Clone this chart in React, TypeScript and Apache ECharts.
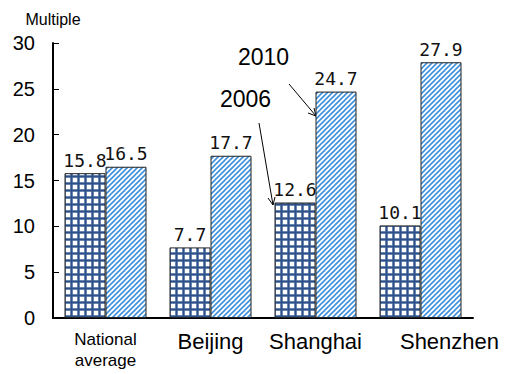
import React, { useEffect, useRef } from "react";
import * as echarts from "echarts";

const categories = ["National average", "Beijing", "Shanghai", "Shenzhen"];
const values2006 = [15.8, 7.7, 12.6, 10.1];
const values2010 = [16.5, 17.7, 24.7, 27.9];
const yTicks = [0, 5, 10, 15, 20, 25, 30];

function gridTile(): HTMLCanvasElement {
  const c = document.createElement("canvas");
  c.width = 7;
  c.height = 7;
  const g = c.getContext("2d")!;
  g.fillStyle = "#ffffff";
  g.fillRect(0, 0, 7, 7);
  g.fillStyle = "#a9bbd6";
  g.fillRect(0, 0, 7, 3);
  g.fillRect(0, 0, 3, 7);
  g.fillStyle = "#2d5089";
  g.fillRect(0, 0.5, 7, 2);
  g.fillRect(0.5, 0, 2, 7);
  return c;
}

function stripeTile(): HTMLCanvasElement {
  const c = document.createElement("canvas");
  c.width = 5;
  c.height = 5;
  const g = c.getContext("2d")!;
  g.fillStyle = "#ffffff";
  g.fillRect(0, 0, 5, 5);
  g.strokeStyle = "#3f90da";
  g.lineWidth = 1.6;
  const segs = [
    [-1, 6, 6, -1],
    [-4, 4, 4, -4],
    [1, 9, 9, 1],
  ];
  for (const s of segs) {
    g.beginPath();
    g.moveTo(s[0], s[1]);
    g.lineTo(s[2], s[3]);
    g.stroke();
  }
  return c;
}

export default function App() {
  const ref = useRef<HTMLDivElement>(null);
  useEffect(() => {
    if (!ref.current) return;
    const chart = echarts.init(ref.current, null, { renderer: "svg" });
    const pat2006 = { image: gridTile(), repeat: "repeat", imageWidth: 7, imageHeight: 7 } as any;
    const pat2010 = { image: stripeTile(), repeat: "repeat", imageWidth: 5, imageHeight: 5 } as any;
    const labelStyle = {
      show: true,
      position: "top",
      distance: 4,
      fontFamily: "DejaVu Sans Mono",
      fontSize: 18,
      color: "#111",
      formatter: (p: any) => p.value.toFixed(1),
    };
    chart.setOption({
      animation: false,
      backgroundColor: "#ffffff",
      grid: { left: 53, right: 33, top: 43, bottom: 56 },
      xAxis: {
        type: "category",
        data: categories,
        axisLine: { lineStyle: { color: "#000", width: 2 } },
        axisTick: { show: false },
        axisLabel: {
          margin: 11,
          interval: 0,
          formatter: (v: string) => {
            if (v === "National average") return "{s|National}\n{s|average}";
            if (v === "Shenzhen") return "{r|" + v + "}";
            return "{b|" + v + "}";
          },
          rich: {
            s: { fontFamily: "Liberation Sans", fontSize: 17, lineHeight: 21, color: "#000" },
            b: { fontFamily: "Liberation Sans", fontSize: 22, lineHeight: 24, color: "#000" },
            r: { fontFamily: "Liberation Sans", fontSize: 22, lineHeight: 24, color: "#000", padding: [0, 0, 0, 58] },
          },
        },
      },
      yAxis: {
        type: "value",
        min: 0,
        max: 30,
        interval: 5,
        name: "Multiple",
        nameLocation: "end",
        nameGap: 16,
        nameTextStyle: { fontFamily: "Liberation Sans", fontSize: 16, color: "#000" },
        axisLine: { show: true, lineStyle: { color: "#000", width: 2 } },
        axisTick: { show: true, inside: true, length: 6, lineStyle: { color: "#000", width: 1 } },
        splitLine: { show: false },
        axisLabel: {
          margin: 18,
          fontFamily: "Liberation Sans",
          fontSize: 20,
          color: "#000",
          formatter: (v: number) => (yTicks.includes(v) ? String(v) : ""),
        },
      },
      series: [
        {
          name: "2006",
          type: "bar",
          data: values2006,
          barWidth: 41,
          barGap: "0%",
          itemStyle: { color: pat2006, borderColor: "#222", borderWidth: 1 },
          label: labelStyle,
        },
        {
          name: "2010",
          type: "bar",
          data: values2010,
          barWidth: 41,
          barGap: "0%",
          itemStyle: { color: pat2010, borderColor: "#222", borderWidth: 1 },
          label: labelStyle,
        },
      ],
      graphic: [
        {
          type: "text",
          left: 238,
          top: 45,
          style: { text: "2010", fontFamily: "Liberation Sans", fontSize: 23, fill: "#000" },
        },
        {
          type: "text",
          left: 220,
          top: 87,
          style: { text: "2006", fontFamily: "Liberation Sans", fontSize: 23, fill: "#000" },
        },
        {
          type: "line",
          shape: { x1: 289, y1: 84, x2: 316, y2: 116 },
          style: { stroke: "#000", lineWidth: 1 },
        },
        {
          type: "polyline",
          shape: { points: [[308, 113], [316, 116], [314, 108]] },
          style: { stroke: "#000", lineWidth: 1, fill: null },
        },
        {
          type: "line",
          shape: { x1: 259, y1: 123, x2: 273, y2: 205 },
          style: { stroke: "#000", lineWidth: 1 },
        },
        {
          type: "polyline",
          shape: { points: [[268, 198], [273, 205], [275, 197]] },
          style: { stroke: "#000", lineWidth: 1, fill: null },
        },
      ],
    });
    return () => chart.dispose();
  }, []);
  return <div ref={ref} style={{ position: "fixed", left: 0, top: 0, width: 506, height: 374 }} />;
}
